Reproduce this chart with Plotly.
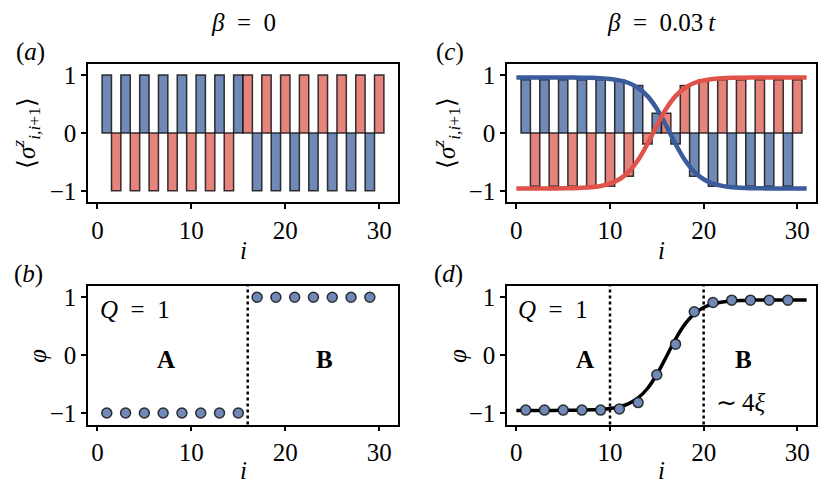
import plotly.graph_objects as go

# ---------------- data ----------------
i_odd = [1, 3, 5, 7, 9, 11, 13, 15, 17, 19, 21, 23, 25, 27, 29]
i_even = [2, 4, 6, 8, 10, 12, 14, 16, 18, 20, 22, 24, 26, 28, 30]

# panel (a): beta = 0
blue_a = [1, 1, 1, 1, 1, 1, 1, 1, -1, -1, -1, -1, -1, -1, -1]
red_a = [-1, -1, -1, -1, -1, -1, -1, 1, 1, 1, 1, 1, 1, 1, 1]

# panel (b): beta = 0
phi_b = [-1, -1, -1, -1, -1, -1, -1, -1, 1, 1, 1, 1, 1, 1, 1]

# panel (c): beta = 0.03 t
blue_c = [0.92, 0.92, 0.92, 0.92, 0.92, 0.92, 0.82, 0.34, -0.19, -0.75, -0.92, -0.92, -0.92, -0.92, -0.92]
red_c = [-0.92, -0.92, -0.92, -0.92, -0.92, -0.75, -0.19, 0.34, 0.82, 0.92, 0.92, 0.92, 0.92, 0.92, 0.92]

curve_x = list(range(0, 32))
blue_curve = [0.96, 0.96, 0.96, 0.96, 0.96, 0.959, 0.958, 0.956, 0.953, 0.946, 0.933, 0.909, 0.864,
              0.779, 0.637, 0.418, 0.127, -0.190, -0.468, -0.672, -0.800, -0.875, -0.915, -0.937,
              -0.948, -0.954, -0.957, -0.958, -0.959, -0.960, -0.960, -0.960]
red_curve = [-0.960, -0.960, -0.960, -0.959, -0.958, -0.957, -0.954, -0.948, -0.937, -0.915, -0.875,
             -0.800, -0.672, -0.468, -0.190, 0.127, 0.418, 0.637, 0.779, 0.864, 0.909, 0.933, 0.946,
             0.953, 0.956, 0.958, 0.959, 0.96, 0.96, 0.96, 0.96, 0.96]

# panel (d): beta = 0.03 t
phi_d = [-0.95, -0.95, -0.95, -0.95, -0.95, -0.93, -0.82, -0.34, 0.19, 0.75, 0.91, 0.95, 0.95, 0.95, 0.95]
fit_curve = [-0.955, -0.955, -0.955, -0.955, -0.955, -0.954, -0.953, -0.951, -0.946, -0.938, -0.923,
             -0.893, -0.839, -0.740, -0.577, -0.335, -0.032, 0.278, 0.535, 0.714, 0.823, 0.885, 0.918,
             0.936, 0.945, 0.950, 0.952, 0.954, 0.955, 0.955, 0.955, 0.955]

wall_b = [16]
wall_d = [10, 20]

x_ticks = [0, 10, 20, 30]
y_ticks = [-1, 0, 1]

# ---------------- style ----------------
FONT = "Liberation Serif, Times New Roman, serif"
FS = 25
BAR_BLUE = "#7089b6"
BAR_RED = "#e5837c"
LINE_BLUE = "#3a5b9c"
LINE_RED = "#e0524a"
EDGE = "rgba(20,20,20,0.85)"

OFF = 8              # page body margin of the browser
W, H = 831 - OFF, 493 - OFF

def dx(a, b):
    return [(a - OFF) / W, (b - OFF) / W]

def dy(top, bot):
    return [1 - (bot - OFF) / H, 1 - (top - OFF) / H]

fig = go.Figure()

bar_kw = dict(width=1.0, marker_line_color=EDGE, marker_line_width=1.5, showlegend=False)

# (a)
fig.add_trace(go.Bar(x=i_odd, y=blue_a, marker_color=BAR_BLUE, xaxis="x", yaxis="y", **bar_kw))
fig.add_trace(go.Bar(x=i_even, y=red_a, marker_color=BAR_RED, xaxis="x", yaxis="y", **bar_kw))

# (c)
fig.add_trace(go.Bar(x=i_odd, y=blue_c, marker_color=BAR_BLUE, xaxis="x3", yaxis="y3", **bar_kw))
fig.add_trace(go.Bar(x=i_even, y=red_c, marker_color=BAR_RED, xaxis="x3", yaxis="y3", **bar_kw))
fig.add_trace(go.Scatter(x=curve_x, y=blue_curve, mode="lines", line=dict(color=LINE_BLUE, width=4.5, shape="spline"),
                         xaxis="x3", yaxis="y3", showlegend=False))
fig.add_trace(go.Scatter(x=curve_x, y=red_curve, mode="lines", line=dict(color=LINE_RED, width=4.5, shape="spline"),
                         xaxis="x3", yaxis="y3", showlegend=False))

marker_kw = dict(size=10, color=BAR_BLUE, line=dict(color=EDGE, width=1.5))
# (b)
fig.add_trace(go.Scatter(x=i_odd, y=phi_b, mode="markers", marker=marker_kw, xaxis="x2", yaxis="y2", showlegend=False))
# (d)
fig.add_trace(go.Scatter(x=curve_x, y=fit_curve, mode="lines", line=dict(color="black", width=3.5, shape="spline"),
                         xaxis="x4", yaxis="y4", showlegend=False))
fig.add_trace(go.Scatter(x=i_odd, y=phi_d, mode="markers", marker=marker_kw, xaxis="x4", yaxis="y4", showlegend=False))

axis_common = dict(showline=True, mirror=True, linecolor="black", linewidth=1.5, ticks="outside",
                   ticklen=5, tickwidth=1.5, tickcolor="black", showgrid=False, zeroline=False,
                   tickfont=dict(family=FONT, size=FS, color="black"))

top = dy(62, 202)
bot = dy(286, 426)
left = dx(88, 398)
right = dx(507, 816)

fig.update_layout(
    width=W, height=H, margin=dict(l=0, r=0, t=0, b=0),
    paper_bgcolor="white", plot_bgcolor="white", barmode="overlay",
    font=dict(family=FONT, size=FS, color="black"),
    xaxis=dict(domain=left, anchor="y", range=[-1, 32], tickvals=x_ticks, **axis_common),
    yaxis=dict(domain=top, anchor="x", range=[-1.2, 1.2], tickvals=y_ticks, **axis_common),
    xaxis2=dict(domain=left, anchor="y2", range=[-1, 32], tickvals=x_ticks, **axis_common),
    yaxis2=dict(domain=bot, anchor="x2", range=[-1.2, 1.2], tickvals=y_ticks, **axis_common),
    xaxis3=dict(domain=right, anchor="y3", range=[-1, 32], tickvals=x_ticks, **axis_common),
    yaxis3=dict(domain=top, anchor="x3", range=[-1.2, 1.2], tickvals=y_ticks, **axis_common),
    xaxis4=dict(domain=right, anchor="y4", range=[-1, 32], tickvals=x_ticks, **axis_common),
    yaxis4=dict(domain=bot, anchor="x4", range=[-1.2, 1.2], tickvals=y_ticks, **axis_common),
)

# dotted domain walls
for xv in wall_b:
    fig.add_shape(type="line", x0=xv, x1=xv, y0=0, y1=1, xref="x2", yref="y2 domain",
                  line=dict(color="black", width=2.5, dash="dot"))
for xv in wall_d:
    fig.add_shape(type="line", x0=xv, x1=xv, y0=0, y1=1, xref="x4", yref="y4 domain",
                  line=dict(color="black", width=2.5, dash="dot"))

def pa(text, x, y, size=FS, angle=0):
    fig.add_annotation(text=text, x=(x - OFF) / W, y=1 - (y - OFF) / H, xref="paper", yref="paper",
                       showarrow=False, xanchor="center", yanchor="middle", textangle=angle,
                       font=dict(family=FONT, size=size, color="black"))

# titles and panel labels
pa("<i>β</i>\u2002=\u20020", 243, 21)
pa("<i>β</i>\u2002=\u20020.03\u2009<i>t</i>", 661, 21)
pa("(<i>a</i>)", 30, 50)
pa("(<i>c</i>)", 450, 50)
pa("(<i>b</i>)", 28, 274)
pa("(<i>d</i>)", 448, 274)

# axis titles
ylab = "⟨<i>σ</i><sup><i>z</i></sup><sub><i>i,i</i>+1</sub>⟩"
pa(ylab, 26, 132, angle=-90)
pa(ylab, 446, 132, angle=-90)
pa("<i>φ</i>", 37, 357, angle=-90)
pa("<i>φ</i>", 457, 357, angle=-90)
for xc in (243, 661):
    pa("<i>i</i>", xc, 250)
    pa("<i>i</i>", xc, 472)

# in-panel annotations
def da(text, x, y, xr, yr, bold=False):
    fig.add_annotation(text=("<b>%s</b>" % text) if bold else text, x=x, y=y, xref=xr, yref=yr,
                       showarrow=False, xanchor="center", yanchor="middle",
                       font=dict(family=FONT, size=FS, color="black"))

da("<i>Q</i>\u2002=\u20021", 4.0, 0.79, "x2", "y2")
da("A", 7.3, -0.07, "x2", "y2", bold=True)
da("B", 24.2, -0.07, "x2", "y2", bold=True)
da("<i>Q</i>\u2002=\u20021", 3.9, 0.79, "x4", "y4")
da("A", 7.3, -0.07, "x4", "y4", bold=True)
da("B", 24.3, -0.07, "x4", "y4", bold=True)
da("∼\u20094<i>ξ</i>", 24.0, -0.82, "x4", "y4")

fig.write_html("out.html")
